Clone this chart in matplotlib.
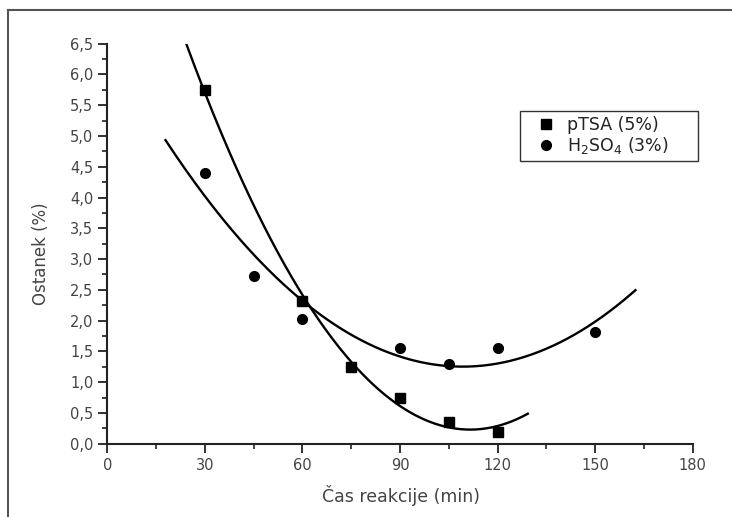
import numpy as np
import matplotlib
matplotlib.use("Agg")
import matplotlib.pyplot as plt
from matplotlib.ticker import MultipleLocator, FuncFormatter

plt.rcParams["font.family"] = ["DejaVu Sans"]
plt.rcParams["mathtext.default"] = "regular"

# data
time_ptsa = [30, 60, 75, 90, 105, 120]
res_ptsa = [5.75, 2.32, 1.25, 0.74, 0.36, 0.195]
time_h2so4 = [30, 45, 60, 90, 105, 120, 150]
res_h2so4 = [4.40, 2.72, 2.03, 1.56, 1.30, 1.56, 1.81]

# range of the fitted curves
fit_range_ptsa = (24.4, 129.3)
fit_range_h2so4 = (17.9, 162.4)

labels = ["pTSA (5%)     ", "H$_2$SO$_4$ (3%)     "]


def fit_curve(x, y, x_range):
    coef = np.polyfit(x, y, 2)
    xs = np.linspace(x_range[0], x_range[1], 200)
    return xs, np.polyval(coef, xs)


fig = plt.figure(figsize=(7.32, 5.17), dpi=100)
ax = fig.add_axes([0.1466, 0.1418, 0.7997, 0.7737])

xs, ys = fit_curve(time_ptsa, res_ptsa, fit_range_ptsa)
ax.plot(xs, ys, color="black", lw=1.7)
xs, ys = fit_curve(time_h2so4, res_h2so4, fit_range_h2so4)
ax.plot(xs, ys, color="black", lw=1.7)

h1, = ax.plot(time_ptsa, res_ptsa, "s", color="black", ms=6.5, ls="none")
h2, = ax.plot(time_h2so4, res_h2so4, "o", color="black", ms=7, ls="none")

ax.set_xlim(0, 180)
ax.set_ylim(0, 6.5)
ax.xaxis.set_major_locator(MultipleLocator(30))
ax.xaxis.set_minor_locator(MultipleLocator(15))
ax.yaxis.set_major_locator(MultipleLocator(0.5))
ax.yaxis.set_minor_locator(MultipleLocator(0.25))
ax.yaxis.set_major_formatter(FuncFormatter(lambda v, p: ("%.1f" % v).replace(".", ",")))

for s in ["top", "right"]:
    ax.spines[s].set_visible(False)
for s in ["left", "bottom"]:
    ax.spines[s].set_linewidth(1.5)
    ax.spines[s].set_color("#222222")

ax.tick_params(which="major", direction="out", length=6.5, width=1.3,
               labelsize=10.5, labelcolor="#444444", color="#222222")
ax.tick_params(which="minor", direction="out", length=3.5, width=1.2, color="#222222")

ax.set_xlabel("Čas reakcije (min)", fontsize=12.5, color="#444444")
ax.set_ylabel("Ostanek (%)", fontsize=12, color="#444444")
ax.xaxis.set_label_coords(0.501, -0.103)
ax.yaxis.set_label_coords(-0.098, 0.474)

leg = fig.legend([h1, h2], labels, loc="upper left",
                 bbox_to_anchor=(0.711, 0.785), fancybox=False,
                 edgecolor="black", fontsize=12.5, handletextpad=0.1,
                 borderpad=0.3, labelspacing=0.05, handlelength=2.3,
                 borderaxespad=0)
leg.get_frame().set_linewidth(1.0)
for t in leg.get_texts():
    t.set_color("#222222")

# outer frame
fig.add_artist(plt.Line2D([8 / 732, 1], [1 - 10 / 517, 1 - 10 / 517],
                          color="#555555", lw=1.5, transform=fig.transFigure))
fig.add_artist(plt.Line2D([8 / 732, 8 / 732], [0, 1 - 10 / 517],
                          color="#555555", lw=1.5, transform=fig.transFigure))

fig.savefig("out.png", dpi=100)
